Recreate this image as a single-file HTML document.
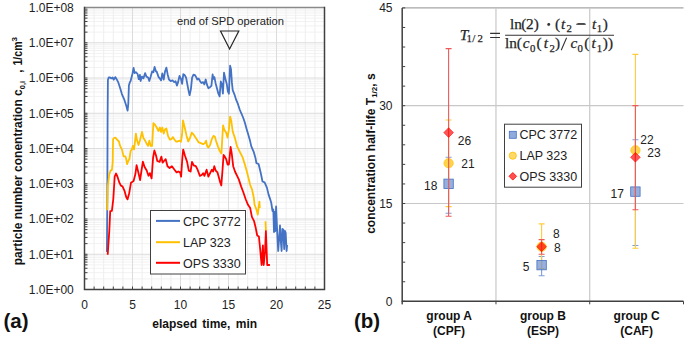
<!DOCTYPE html><html><head><meta charset="utf-8"><style>html,body{margin:0;padding:0;background:#fff;}svg{display:block;}text{font-family:"Liberation Sans",sans-serif;} .ser text, text.ser{font-family:"Liberation Serif",serif;}</style></head><body>
<svg width="685" height="343" viewBox="0 0 685 343">
<rect width="685" height="343" fill="#fff"/>
<path d="M84.5 278.89H324.5M84.5 272.68H324.5M84.5 268.28H324.5M84.5 264.86H324.5M84.5 262.07H324.5M84.5 259.71H324.5M84.5 257.67H324.5M84.5 255.86H324.5M84.5 243.64H324.5M84.5 237.43H324.5M84.5 233.03H324.5M84.5 229.61H324.5M84.5 226.82H324.5M84.5 224.46H324.5M84.5 222.42H324.5M84.5 220.61H324.5M84.5 208.39H324.5M84.5 202.18H324.5M84.5 197.78H324.5M84.5 194.36H324.5M84.5 191.57H324.5M84.5 189.21H324.5M84.5 187.17H324.5M84.5 185.36H324.5M84.5 173.14H324.5M84.5 166.93H324.5M84.5 162.53H324.5M84.5 159.11H324.5M84.5 156.32H324.5M84.5 153.96H324.5M84.5 151.92H324.5M84.5 150.11H324.5M84.5 137.89H324.5M84.5 131.68H324.5M84.5 127.28H324.5M84.5 123.86H324.5M84.5 121.07H324.5M84.5 118.71H324.5M84.5 116.67H324.5M84.5 114.86H324.5M84.5 102.64H324.5M84.5 96.43H324.5M84.5 92.03H324.5M84.5 88.61H324.5M84.5 85.82H324.5M84.5 83.46H324.5M84.5 81.42H324.5M84.5 79.61H324.5M84.5 67.39H324.5M84.5 61.18H324.5M84.5 56.78H324.5M84.5 53.36H324.5M84.5 50.57H324.5M84.5 48.21H324.5M84.5 46.17H324.5M84.5 44.36H324.5M84.5 32.14H324.5M84.5 25.93H324.5M84.5 21.53H324.5M84.5 18.11H324.5M84.5 15.32H324.5M84.5 12.96H324.5M84.5 10.92H324.5M84.5 9.11H324.5" stroke="#f2f2f2" stroke-width="1" fill="none"/>
<path d="M94.10 7.5V289.5M103.70 7.5V289.5M113.30 7.5V289.5M122.90 7.5V289.5M142.10 7.5V289.5M151.70 7.5V289.5M161.30 7.5V289.5M170.90 7.5V289.5M190.10 7.5V289.5M199.70 7.5V289.5M209.30 7.5V289.5M218.90 7.5V289.5M238.10 7.5V289.5M247.70 7.5V289.5M257.30 7.5V289.5M266.90 7.5V289.5M286.10 7.5V289.5M295.70 7.5V289.5M305.30 7.5V289.5M314.90 7.5V289.5" stroke="#eeeeee" stroke-width="1" fill="none"/>
<path d="M84.5 254.25H324.5M84.5 219.00H324.5M84.5 183.75H324.5M84.5 148.50H324.5M84.5 113.25H324.5M84.5 78.00H324.5M84.5 42.75H324.5M132.50 7.5V289.5M180.50 7.5V289.5M228.50 7.5V289.5M276.50 7.5V289.5" stroke="#dcdcdc" stroke-width="1" fill="none"/>
<path d="M84.5 289.50h3M84.5 278.89h3M84.5 272.68h3M84.5 268.28h3M84.5 264.86h3M84.5 262.07h3M84.5 259.71h3M84.5 257.67h3M84.5 255.86h3M84.5 254.25h3M84.5 243.64h3M84.5 237.43h3M84.5 233.03h3M84.5 229.61h3M84.5 226.82h3M84.5 224.46h3M84.5 222.42h3M84.5 220.61h3M84.5 219.00h3M84.5 208.39h3M84.5 202.18h3M84.5 197.78h3M84.5 194.36h3M84.5 191.57h3M84.5 189.21h3M84.5 187.17h3M84.5 185.36h3M84.5 183.75h3M84.5 173.14h3M84.5 166.93h3M84.5 162.53h3M84.5 159.11h3M84.5 156.32h3M84.5 153.96h3M84.5 151.92h3M84.5 150.11h3M84.5 148.50h3M84.5 137.89h3M84.5 131.68h3M84.5 127.28h3M84.5 123.86h3M84.5 121.07h3M84.5 118.71h3M84.5 116.67h3M84.5 114.86h3M84.5 113.25h3M84.5 102.64h3M84.5 96.43h3M84.5 92.03h3M84.5 88.61h3M84.5 85.82h3M84.5 83.46h3M84.5 81.42h3M84.5 79.61h3M84.5 78.00h3M84.5 67.39h3M84.5 61.18h3M84.5 56.78h3M84.5 53.36h3M84.5 50.57h3M84.5 48.21h3M84.5 46.17h3M84.5 44.36h3M84.5 42.75h3M84.5 32.14h3M84.5 25.93h3M84.5 21.53h3M84.5 18.11h3M84.5 15.32h3M84.5 12.96h3M84.5 10.92h3M84.5 9.11h3M84.5 7.50h3M94.10 289.5v-3M103.70 289.5v-3M113.30 289.5v-3M122.90 289.5v-3M132.50 289.5v-3M142.10 289.5v-3M151.70 289.5v-3M161.30 289.5v-3M170.90 289.5v-3M180.50 289.5v-3M190.10 289.5v-3M199.70 289.5v-3M209.30 289.5v-3M218.90 289.5v-3M228.50 289.5v-3M238.10 289.5v-3M247.70 289.5v-3M257.30 289.5v-3M266.90 289.5v-3M276.50 289.5v-3M286.10 289.5v-3M295.70 289.5v-3M305.30 289.5v-3M314.90 289.5v-3" stroke="#404040" stroke-width="1" fill="none"/>
<path d="M84.5 7.5H324.5" stroke="#8a8a8a" stroke-width="1.6" fill="none"/>
<path d="M84.5 6.8V289.5H324.5V6.8" stroke="#404040" stroke-width="1.5" fill="none"/>
<g fill="none" stroke-width="1.8" stroke-linejoin="round">
<polyline points="106.9,252.0 107.3,200.0 107.6,120.0 107.9,80.1 108.7,77.5 110.1,77.5 111.4,78.4 112.6,77.5 113.6,79.6 115.4,77.1 116.6,79.2 118.4,82.7 120.1,88.0 121.9,94.1 124.5,100.2 126.2,105.5 127.6,110.7 128.3,103.7 128.9,85.4 129.7,82.7 130.6,81.0 131.5,77.5 132.4,74.0 133.6,67.9 134.6,73.1 135.9,72.2 137.6,74.0 138.8,79.2 139.9,74.9 140.6,81.0 142.0,76.6 143.4,78.4 145.1,73.1 146.4,76.6 148.1,77.5 149.3,81.0 150.7,76.6 152.1,71.4 153.4,72.2 154.6,67.0 156.0,71.4 156.7,71.6 158.5,76.9 159.9,78.6 161.1,80.4 162.3,73.4 163.7,79.5 165.0,71.6 166.4,67.6 167.6,74.2 169.0,79.5 170.7,81.2 172.5,80.4 174.2,82.1 175.6,81.2 176.9,85.6 178.1,82.1 179.5,76.0 180.9,78.6 182.1,83.9 183.3,74.2 184.7,75.1 186.1,77.7 187.4,84.7 188.6,90.9 189.6,95.2 190.9,89.1 192.1,77.7 193.5,74.6 194.9,75.1 196.1,76.9 197.3,79.5 198.7,78.6 200.1,81.2 201.4,83.0 203.1,82.1 204.3,84.4 205.7,79.5 207.1,85.1 208.4,88.2 210.0,87.2 211.4,85.9 212.6,74.5 213.5,78.9 214.4,77.1 215.6,83.2 217.0,88.5 218.4,93.7 219.6,96.4 220.8,81.5 221.9,84.1 222.9,93.7 224.0,72.7 225.4,78.9 226.8,84.1 227.8,91.1 228.9,93.7 230.1,65.7 231.0,69.2 231.9,82.4 232.7,90.2 234.5,94.6 236.2,99.9 238.0,104.2 239.7,109.5 240.8,112.2 243.1,117.5 244.9,122.7 246.6,128.9 248.4,135.0 250.1,141.1 251.3,146.4 253.6,151.6 255.4,157.7 256.4,163.1 258.6,164.0 260.7,172.7 262.5,181.5 264.6,182.4 266.9,187.6 268.6,194.6 270.4,199.9 271.2,202.5 272.5,211.0 273.3,209.5 274.0,232.0 274.7,212.0 275.3,231.0 276.1,206.5 277.2,232.0 278.2,251.0 279.3,236.0 280.0,225.5 280.8,241.0 281.6,251.0 282.4,229.0 283.3,229.5 284.2,249.0 285.0,231.0 285.7,233.0 286.6,251.0 287.1,245.0" stroke="#4472c4"/>
<polyline points="107.2,210.2 107.8,186.7 109.2,174.5 110.7,170.4 111.9,170.0 112.7,162.2 112.9,150.0 113.1,139.0 114.0,138.0 115.4,137.6 117.1,139.7 118.9,141.5 120.1,145.9 121.9,149.4 123.6,156.4 125.4,156.4 126.2,159.0 127.1,164.2 128.0,161.6 129.4,159.0 130.6,151.1 131.8,149.4 132.9,145.9 134.1,149.4 135.9,133.6 137.1,140.6 138.5,145.0 139.9,140.6 142.0,131.9 143.4,138.0 145.1,140.6 146.4,143.2 148.1,145.9 149.3,140.6 150.7,145.9 152.1,145.9 153.4,123.1 155.1,124.9 156.7,127.5 158.5,131.0 159.9,127.5 161.1,131.9 162.3,127.5 163.7,133.6 165.1,129.2 166.4,128.4 168.1,136.2 169.9,139.7 171.6,138.9 172.8,137.1 174.6,139.7 176.0,141.5 177.7,141.5 179.5,140.6 180.9,141.8 182.1,134.5 183.0,120.5 184.7,127.5 186.5,135.4 188.2,141.5 190.0,138.0 191.7,132.7 193.5,134.5 195.2,137.1 197.0,139.7 198.7,142.4 200.8,143.2 203.1,144.1 204.9,143.2 206.1,140.6 207.1,145.9 208.4,147.6 210.1,145.0 211.7,139.4 213.5,135.9 214.9,136.7 216.1,141.1 217.9,146.4 219.6,150.7 221.4,153.4 222.6,133.2 223.1,125.4 224.3,129.7 226.1,132.4 227.5,137.6 228.9,129.7 230.1,116.6 231.3,121.0 232.7,131.5 234.8,137.6 237.1,146.4 239.7,151.6 242.4,156.8 244.6,163.6 246.7,171.0 248.5,178.0 250.2,185.0 252.0,189.4 253.7,197.2 254.6,204.8 256.7,210.3 257.8,214.7 259.4,201.6 259.8,208.0" stroke="#ffc000"/>
<polyline points="265.5,221.2 265.9,231.0" stroke="#ffc000"/>
<polyline points="107.7,254.7 109.3,230.6 110.2,211.2 111.9,210.8 113.3,199.0 114.7,176.5 116.0,173.5 117.4,176.5 119.4,182.7 120.9,185.7 122.5,186.3 124.5,190.8 126.2,197.0 127.5,199.4 129.2,193.2 131.0,182.7 133.6,181.0 135.4,174.0 136.6,165.2 138.3,172.2 140.1,180.1 141.5,170.5 142.9,161.7 144.6,167.0 146.7,170.5 148.5,175.7 149.9,173.1 151.6,178.4 153.1,157.5 154.4,150.5 156.1,155.7 157.3,161.0 159.6,161.9 161.4,156.6 162.6,162.7 164.0,161.0 165.7,159.2 167.5,166.2 169.6,168.0 171.9,166.2 174.5,169.7 176.6,172.4 178.3,171.5 180.1,172.4 181.1,176.7 182.4,157.5 183.2,149.6 185.0,155.7 187.1,161.9 188.8,170.6 190.6,171.5 192.0,161.9 193.7,165.4 195.8,166.2 197.6,169.7 199.9,175.9 201.7,175.0 203.1,173.2 204.4,175.9 206.6,169.7 208.4,176.7 210.1,173.2 211.9,169.7 213.1,171.5 214.3,166.2 215.7,170.6 217.5,172.4 218.9,177.6 220.1,182.0 221.3,185.5 222.4,171.5 223.6,154.9 224.8,156.6 226.2,159.2 227.6,164.5 228.9,164.5 230.6,147.0 231.8,154.0 233.2,166.2 235.0,171.5 237.1,175.9 238.8,179.4 241.1,186.4 243.4,192.5 245.8,199.5 248.0,204.8 250.2,208.1 251.9,216.9 254.1,221.2 255.7,227.8 257.2,235.5 258.9,236.5 260.0,247.5 261.6,265.0 262.9,245.3 263.7,265.0 265.0,251.9 265.9,231.1 267.2,265.0 269.9,265.0" stroke="#ff0000"/>
</g>
<path d="M220.5 31L238.8 31L229.6 49Z" fill="none" stroke="#262626" stroke-width="1.2"/>
<text x="177" y="24.9" font-size="11" fill="#222" textLength="107" lengthAdjust="spacingAndGlyphs">end of SPD operation</text>
<rect x="150.5" y="210.5" width="95" height="63.5" fill="#fff" stroke="#404040" stroke-width="1"/>
<path d="M156 220.9H180" stroke="#4472c4" stroke-width="2"/>
<text x="183" y="225.6" font-size="12.5" fill="#222">CPC 3772</text>
<path d="M156 242.2H180" stroke="#ffc000" stroke-width="2"/>
<text x="183" y="247.0" font-size="12.5" fill="#222">LAP 323</text>
<path d="M156 262.8H180" stroke="#ff0000" stroke-width="2"/>
<text x="183" y="267.7" font-size="12.5" fill="#222">OPS 3330</text>
<text x="73.8" y="293.80" font-size="12" fill="#222" text-anchor="end">1.0E+00</text>
<text x="73.8" y="258.55" font-size="12" fill="#222" text-anchor="end">1.0E+01</text>
<text x="73.8" y="223.30" font-size="12" fill="#222" text-anchor="end">1.0E+02</text>
<text x="73.8" y="188.05" font-size="12" fill="#222" text-anchor="end">1.0E+03</text>
<text x="73.8" y="152.80" font-size="12" fill="#222" text-anchor="end">1.0E+04</text>
<text x="73.8" y="117.55" font-size="12" fill="#222" text-anchor="end">1.0E+05</text>
<text x="73.8" y="82.30" font-size="12" fill="#222" text-anchor="end">1.0E+06</text>
<text x="73.8" y="47.05" font-size="12" fill="#222" text-anchor="end">1.0E+07</text>
<text x="73.8" y="11.80" font-size="12" fill="#222" text-anchor="end">1.0E+08</text>
<text x="84.50" y="309.2" font-size="12" fill="#222" text-anchor="middle">0</text>
<text x="132.50" y="309.2" font-size="12" fill="#222" text-anchor="middle">5</text>
<text x="180.50" y="309.2" font-size="12" fill="#222" text-anchor="middle">10</text>
<text x="228.50" y="309.2" font-size="12" fill="#222" text-anchor="middle">15</text>
<text x="276.50" y="309.2" font-size="12" fill="#222" text-anchor="middle">20</text>
<text x="324.50" y="309.2" font-size="12" fill="#222" text-anchor="middle">25</text>
<text x="204.7" y="328" font-size="12" font-weight="bold" fill="#111" text-anchor="middle" word-spacing="2.0">elapsed time, min</text>
<text transform="translate(22.0,265.3) rotate(-90)" font-size="12" font-weight="bold" fill="#111">particle number conentration c<tspan font-size="7.5" dy="2.5">0,i</tspan><tspan x="192.5" dy="-2.5">,</tspan><tspan x="199.8" textLength="24" lengthAdjust="spacingAndGlyphs">1/cm</tspan><tspan font-size="8" dy="-5">3</tspan></text>
<text x="3.5" y="328.3" font-size="20.5" font-weight="bold" fill="#111">(a)</text>
<text x="354" y="328.3" font-size="20.5" font-weight="bold" fill="#111">(b)</text>
<path d="M402.2 7.90H683.5" stroke="#a6a6a6" stroke-width="1.4" fill="none"/>
<path d="M402.2 203.50H683.5M402.2 105.70H683.5M495.97 7.9V301.3M589.73 7.9V301.3" stroke="#c8c8c8" stroke-width="1.2" fill="none"/>
<path d="M402.2 301.30h3M402.2 281.74h3M402.2 262.18h3M402.2 242.62h3M402.2 223.06h3M402.2 203.50h3M402.2 183.94h3M402.2 164.38h3M402.2 144.82h3M402.2 125.26h3M402.2 105.70h3M402.2 86.14h3M402.2 66.58h3M402.2 47.02h3M402.2 27.46h3M402.2 7.90h3M402.20 301.3v3M495.97 301.3v3M589.73 301.3v3M683.50 301.3v3M402.2 301.3v3" stroke="#404040" stroke-width="1" fill="none"/>
<path d="M402.2 7.9V301.3H683.5" stroke="#404040" stroke-width="1.5" fill="none"/>
<text x="392.5" y="305.60" font-size="12" fill="#222" text-anchor="end">0</text>
<text x="392.5" y="207.80" font-size="12" fill="#222" text-anchor="end">15</text>
<text x="392.5" y="110.00" font-size="12" fill="#222" text-anchor="end">30</text>
<text x="392.5" y="12.20" font-size="12" fill="#222" text-anchor="end">45</text>
<text transform="translate(375.3,153.6) rotate(-90)" font-size="12" font-weight="bold" fill="#111" text-anchor="middle">concentration half-life T<tspan font-size="8" dy="1.8">1/2</tspan><tspan dy="-1.8">, s</tspan></text>
<text x="449.1" y="320" font-size="12" font-weight="bold" fill="#111" text-anchor="middle">group A</text>
<text x="449.1" y="335" font-size="12" font-weight="bold" fill="#111" text-anchor="middle">(CPF)</text>
<text x="542.9" y="320" font-size="12" font-weight="bold" fill="#111" text-anchor="middle">group B</text>
<text x="542.9" y="335" font-size="12" font-weight="bold" fill="#111" text-anchor="middle">(ESP)</text>
<text x="636.6" y="320" font-size="12" font-weight="bold" fill="#111" text-anchor="middle">group C</text>
<text x="636.6" y="335" font-size="12" font-weight="bold" fill="#111" text-anchor="middle">(CAF)</text>
<path d="M448.6 157.3V213.3M445.6 157.3h6M445.6 213.3h6" stroke="#7f9fd8" stroke-width="1.1" fill="none"/>
<path d="M448.6 120.0V206.6M445.6 120.0h6M445.6 206.6h6" stroke="#ffcb3a" stroke-width="1.1" fill="none"/>
<rect x="443.9" y="179.1" width="9.4" height="9.4" fill="#7090d0" fill-opacity="0.72" stroke="#4472c4" stroke-width="0.8"/>
<circle cx="448.6" cy="163.2" r="4.7" fill="#ffc000" fill-opacity="0.7" stroke="#ffc000" stroke-width="0.6"/>
<path d="M448.6 48.6V216.2M445.6 48.6h6M445.6 216.2h6" stroke="#ec5a5a" stroke-width="1.1" fill="none"/>
<path d="M448.6 127.8l4.8 4.8l-4.8 4.8l-4.8 -4.8Z" fill="#ff0000" fill-opacity="0.66" stroke="#ff0000" stroke-width="0.6"/>
<path d="M541.6 256.5V275.7M538.6 256.5h6M538.6 275.7h6" stroke="#7f9fd8" stroke-width="1.1" fill="none"/>
<path d="M541.6 223.9V268.5M538.6 223.9h6M538.6 268.5h6" stroke="#ffcb3a" stroke-width="1.1" fill="none"/>
<rect x="536.9" y="260.4" width="9.4" height="9.4" fill="#7090d0" fill-opacity="0.72" stroke="#4472c4" stroke-width="0.8"/>
<circle cx="541.6" cy="246.7" r="4.7" fill="#ffc000" fill-opacity="0.7" stroke="#ffc000" stroke-width="0.6"/>
<path d="M541.6 239.6V254.3M538.6 239.6h6M538.6 254.3h6" stroke="#ec5a5a" stroke-width="1.1" fill="none"/>
<path d="M541.6 241.9l4.8 4.8l-4.8 4.8l-4.8 -4.8Z" fill="#ff0000" fill-opacity="0.66" stroke="#ff0000" stroke-width="0.6"/>
<path d="M635.4 139.8V245.5M632.4 139.8h6M632.4 245.5h6" stroke="#7f9fd8" stroke-width="1.1" fill="none"/>
<path d="M635.4 54.4V248.3M632.4 54.4h6M632.4 248.3h6" stroke="#ffcb3a" stroke-width="1.1" fill="none"/>
<rect x="630.7" y="186.9" width="9.4" height="9.4" fill="#7090d0" fill-opacity="0.72" stroke="#4472c4" stroke-width="0.8"/>
<circle cx="635.4" cy="150.3" r="4.7" fill="#ffc000" fill-opacity="0.7" stroke="#ffc000" stroke-width="0.6"/>
<path d="M635.4 105.6V209.8M632.4 105.6h6M632.4 209.8h6" stroke="#ec5a5a" stroke-width="1.1" fill="none"/>
<path d="M635.4 152.5l4.8 4.8l-4.8 4.8l-4.8 -4.8Z" fill="#ff0000" fill-opacity="0.66" stroke="#ff0000" stroke-width="0.6"/>
<text x="457.8" y="144.6" font-size="12" fill="#222">26</text>
<text x="461.3" y="168.4" font-size="12" fill="#222">21</text>
<text x="424.0" y="189.9" font-size="12" fill="#222">18</text>
<text x="553.0" y="237.7" font-size="12" fill="#222">8</text>
<text x="554.0" y="252.3" font-size="12" fill="#222">8</text>
<text x="522.8" y="271.3" font-size="12" fill="#222">5</text>
<text x="640.3" y="143.9" font-size="12" fill="#222">22</text>
<text x="647.3" y="156.7" font-size="12" fill="#222">23</text>
<text x="610.5" y="197.5" font-size="12" fill="#222">17</text>
<rect x="504.5" y="124.2" width="77" height="63" fill="#fff" stroke="#404040" stroke-width="1"/>
<rect x="509.3" y="131.3" width="7" height="7" fill="#8faadc" stroke="#4472c4" stroke-width="0.8"/>
<circle cx="512.8" cy="155.7" r="3.6" fill="#ffd966" stroke="#ffc000" stroke-width="0.8"/>
<path d="M512.8 172.5l3.8 3.8l-3.8 3.8l-3.8 -3.8Z" fill="#ff5050" stroke="#ff0000" stroke-width="0.8"/>
<text x="519.5" y="139.1" font-size="12.5" fill="#222">CPC 3772</text>
<text x="519.5" y="159.9" font-size="12.5" fill="#222">LAP 323</text>
<text x="519.5" y="180.7" font-size="12.5" fill="#222">OPS 3330</text>
<g class="ser" fill="#262626" stroke="#262626" stroke-width="0.25" text-anchor="middle">
<text x="464.00" y="39.60" font-size="15.3" font-style="italic">T</text>
<text x="469.30" y="42.40" font-size="10.8">1</text>
<text x="473.80" y="42.40" font-size="10.8">/</text>
<text x="480.30" y="42.40" font-size="10.8">2</text>
<text x="515.90" y="28.70" font-size="15.3">ln</text>
<text x="523.70" y="28.70" font-size="15.3">(</text>
<text x="529.80" y="28.70" font-size="15.3">2</text>
<text x="536.25" y="28.70" font-size="15.3">)</text>
<text x="548.70" y="28.70" font-size="15.3">·</text>
<text x="557.55" y="28.70" font-size="15.3">(</text>
<text x="563.00" y="28.70" font-size="15.3" font-style="italic">t</text>
<text x="569.10" y="32.40" font-size="10.8">2</text>
<text x="581.00" y="28.70" font-size="15.3">−</text>
<text x="594.10" y="28.70" font-size="15.3" font-style="italic">t</text>
<text x="599.50" y="32.40" font-size="10.8">1</text>
<text x="605.35" y="28.70" font-size="15.3">)</text>
<text x="510.90" y="47.90" font-size="15.3">ln</text>
<text x="519.25" y="47.90" font-size="15.3">(</text>
<text x="526.25" y="47.90" font-size="15.3" font-style="italic">c</text>
<text x="532.70" y="52.40" font-size="10.8">0</text>
<text x="539.10" y="47.90" font-size="15.3">(</text>
<text x="545.85" y="47.90" font-size="15.3" font-style="italic">t</text>
<text x="552.25" y="52.40" font-size="10.8">2</text>
<text x="557.55" y="47.90" font-size="15.3">)</text>
<text x="573.90" y="47.90" font-size="15.3" font-style="italic">c</text>
<text x="580.30" y="52.40" font-size="10.8">0</text>
<text x="586.75" y="47.90" font-size="15.3">(</text>
<text x="593.50" y="47.90" font-size="15.3" font-style="italic">t</text>
<text x="599.55" y="52.40" font-size="10.8">1</text>
<text x="605.35" y="47.90" font-size="15.3">)</text>
<text x="610.45" y="47.90" font-size="15.3">)</text>
<path d="M505.1 35.2H614M490.1 33.4H500M490.1 37.5H500M576.2 24.2H585.8M561.2 50.3L566.6 37.8" stroke="#333" stroke-width="1.1"/><circle cx="548.7" cy="24.6" r="1.25" fill="#333"/>
</g>
</svg></body></html>
